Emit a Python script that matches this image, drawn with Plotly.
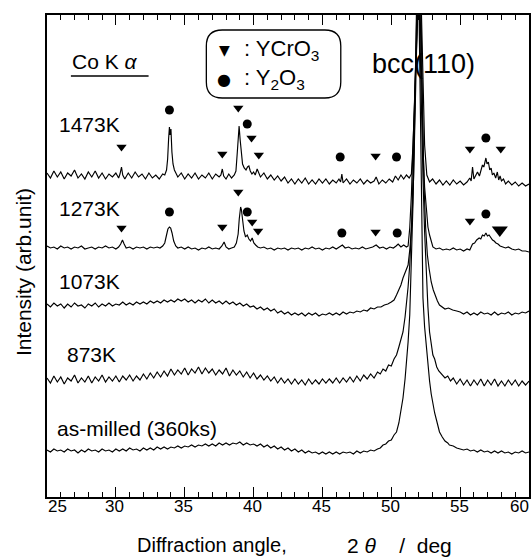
import plotly.graph_objects as go

# ---------------- data (2theta in deg, intensity in arb. units incl. stacking offset) ----------------
spec_1473k = [(25.0,324),(25.25,319),(25.5,326),(25.75,320),(26.0,325),(26.25,318),(26.5,324),(26.75,321),(27.0,327),(27.25,319),(27.5,323),(27.75,318),(28.0,325),(28.25,320),(28.5,326),(28.75,319),(29.0,324),(29.25,318),(29.5,323),(29.75,320),(30.0,324),(30.2,319),(30.3,323),(30.41,330),(30.5,322),(30.65,318),(30.9,324),(31.15,319),(31.4,325),(31.65,320),(31.9,323),(32.15,318),(32.4,324),(32.65,319),(32.9,322),(33.15,318),(33.4,323),(33.55,322),(33.68,327),(33.76,338),(33.83,358),(33.89,370),(33.94,362),(34.0,368),(34.07,345),(34.15,333),(34.25,327),(34.38,323),(34.5,320),(34.75,324),(35.0,318),(35.25,323),(35.5,319),(35.75,324),(36.0,318),(36.25,322),(36.5,319),(36.75,324),(37.0,318),(37.25,323),(37.5,320),(37.63,322),(37.73,328),(37.83,321),(38.0,318),(38.2,323),(38.4,319),(38.6,322),(38.72,326),(38.82,345),(38.89,365),(38.95,371),(39.02,358),(39.1,342),(39.2,333),(39.32,329),(39.45,327),(39.56,330),(39.66,331),(39.76,326),(39.88,323),(40.0,325),(40.12,322),(40.26,328),(40.38,323),(40.5,320),(40.75,324),(41.0,318),(41.25,322),(41.5,317),(41.75,321),(42.0,316),(42.25,320),(42.5,314),(42.75,318),(43.0,313),(43.25,318),(43.5,314),(43.75,319),(44.0,313),(44.25,317),(44.5,313),(44.75,318),(45.0,314),(45.25,318),(45.5,313),(45.75,317),(46.0,314),(46.2,318),(46.32,315),(46.41,323),(46.5,314),(46.75,318),(47.0,313),(47.25,317),(47.5,314),(47.75,318),(48.0,313),(48.25,317),(48.5,314),(48.75,316),(48.9,320),(49.1,313),(49.35,317),(49.6,314),(49.85,318),(50.1,315),(50.3,321),(50.5,317),(50.7,322),(50.9,318),(51.1,322),(51.3,319),(51.46,323),(51.58,352),(51.72,402),(51.88,470),(52.0,515),(52.08,545),(52.2,478),(52.3,405),(52.42,352),(52.58,322),(52.78,315),(53.0,318),(53.25,313),(53.5,317),(53.75,312),(54.0,316),(54.25,312),(54.5,317),(54.75,313),(55.0,316),(55.25,312),(55.5,315),(55.7,319),(55.8,316),(55.9,330),(56.0,318),(56.12,322),(56.26,325),(56.4,321),(56.52,328),(56.62,332),(56.72,330),(56.8,336),(56.87,339),(56.95,333),(57.05,335),(57.15,327),(57.25,329),(57.34,322),(57.45,324),(57.58,319),(57.7,325),(57.8,317),(57.9,321),(58.0,316),(58.15,318),(58.3,313),(58.5,316),(58.75,312),(59.0,315),(59.25,311),(59.5,314),(59.75,311),(60.0,313)]

spec_1273k = [(25.0,251),(25.25,249),(25.5,250),(25.75,248),(26.0,251),(26.25,249),(26.5,250),(26.75,248),(27.0,250),(27.25,249),(27.5,251),(27.75,248),(28.0,249),(28.25,250),(28.5,248),(28.75,250),(29.0,249),(29.25,251),(29.5,249),(29.75,250),(30.0,248),(30.2,250),(30.35,253),(30.48,257),(30.6,253),(30.75,249),(31.0,250),(31.25,248),(31.5,250),(31.75,249),(32.0,250),(32.25,248),(32.5,250),(32.75,249),(33.0,250),(33.2,249),(33.4,251),(33.55,254),(33.68,262),(33.78,268),(33.89,270),(33.98,269),(34.08,264),(34.2,256),(34.35,251),(34.5,249),(34.75,250),(35.0,248),(35.25,250),(35.5,248),(35.75,249),(36.0,247),(36.25,249),(36.5,248),(36.75,250),(37.0,248),(37.25,249),(37.5,248),(37.7,251),(37.86,255),(38.0,250),(38.2,248),(38.4,249),(38.6,250),(38.75,254),(38.88,263),(38.96,278),(39.02,287),(39.06,290),(39.12,287),(39.2,276),(39.3,266),(39.42,260),(39.54,262),(39.66,258),(39.78,256),(39.9,259),(40.02,254),(40.15,252),(40.3,250),(40.5,249),(40.75,250),(41.0,248),(41.25,249),(41.5,247),(41.75,249),(42.0,248),(42.25,249),(42.5,247),(42.75,249),(43.0,248),(43.25,249),(43.5,247),(43.75,249),(44.0,248),(44.25,250),(44.5,248),(44.75,249),(45.0,247),(45.25,249),(45.5,248),(45.75,250),(46.0,248),(46.25,250),(46.45,252),(46.65,249),(46.9,250),(47.15,248),(47.4,249),(47.65,248),(47.9,250),(48.15,248),(48.4,249),(48.65,250),(48.9,252),(49.15,249),(49.4,250),(49.65,248),(49.9,250),(50.15,249),(50.35,251),(50.5,253),(50.7,250),(50.9,252),(51.1,250),(51.22,251),(51.34,269),(51.46,302),(51.58,352),(51.72,420),(51.85,488),(51.95,530),(52.05,545),(52.15,490),(52.25,400),(52.33,340),(52.42,310),(52.54,285),(52.66,270),(52.78,262),(52.9,255),(53.02,250),(53.25,248),(53.5,249),(53.75,247),(54.0,248),(54.25,247),(54.5,249),(54.75,247),(55.0,248),(55.25,246),(55.5,248),(55.7,247),(55.9,253),(56.05,254),(56.2,257),(56.38,259),(56.5,258),(56.62,262),(56.75,261),(56.87,264),(56.98,261),(57.1,262),(57.23,259),(57.35,257),(57.47,256),(57.6,254),(57.75,253),(57.9,251),(58.1,250),(58.3,249),(58.5,250),(58.75,248),(59.0,247),(59.25,248),(59.5,246),(59.75,246),(60.0,245)]

spec_1073k = [(25.0,193),(25.25,190),(25.5,194),(25.75,191),(26.0,193),(26.25,189),(26.5,193),(26.75,190),(27.0,194),(27.25,191),(27.5,192),(27.75,189),(28.0,193),(28.25,191),(28.5,194),(28.75,190),(29.0,193),(29.25,191),(29.5,194),(29.75,191),(30.0,193),(30.25,192),(30.5,195),(30.75,192),(31.0,194),(31.25,192),(31.5,195),(31.75,193),(32.0,195),(32.25,193),(32.5,196),(32.75,194),(33.0,196),(33.25,194),(33.5,197),(33.75,195),(34.0,197),(34.25,195),(34.5,198),(34.75,196),(35.0,198),(35.25,195),(35.5,197),(35.75,194),(36.0,197),(36.25,195),(36.5,198),(36.75,194),(37.0,197),(37.25,194),(37.5,196),(37.75,193),(38.0,196),(38.25,193),(38.5,195),(38.75,192),(39.0,194),(39.25,191),(39.5,193),(39.75,190),(40.0,191),(40.25,188),(40.5,190),(40.75,187),(41.0,189),(41.25,186),(41.5,188),(41.75,184),(42.0,186),(42.25,183),(42.5,185),(42.75,182),(43.0,184),(43.25,182),(43.5,184),(43.75,181),(44.0,184),(44.25,182),(44.5,184),(44.75,181),(45.0,183),(45.25,182),(45.5,184),(45.75,182),(46.0,184),(46.25,182),(46.5,185),(46.75,183),(47.0,185),(47.25,184),(47.5,186),(47.75,185),(48.0,187),(48.25,186),(48.5,189),(48.75,188),(49.0,190),(49.25,190),(49.5,192),(49.75,193),(50.0,195),(50.2,197),(50.38,202),(50.55,207),(50.7,212),(50.85,219),(51.0,225),(51.12,229),(51.22,232),(51.35,248),(51.5,275),(51.62,320),(51.75,390),(51.88,470),(52.0,545),(52.12,470),(52.25,380),(52.38,310),(52.5,268),(52.62,242),(52.75,228),(52.9,215),(53.05,207),(53.2,201),(53.35,196),(53.5,192),(53.7,190),(53.9,188),(54.15,189),(54.46,187),(54.75,186),(55.0,185),(55.25,183),(55.5,185),(55.75,182),(56.0,184),(56.25,182),(56.5,185),(56.75,183),(57.0,184),(57.25,182),(57.5,185),(57.75,182),(58.0,184),(58.25,183),(58.5,185),(58.75,182),(59.0,184),(59.25,183),(59.5,185),(59.75,184),(60.0,186)]

spec_873k = [(25.0,119),(25.25,114),(25.5,121),(25.75,115),(26.0,120),(26.25,113),(26.5,119),(26.75,116),(27.0,122),(27.25,114),(27.5,119),(27.75,115),(28.0,121),(28.25,114),(28.5,120),(28.75,116),(29.0,122),(29.25,115),(29.5,120),(29.75,116),(30.0,121),(30.25,115),(30.5,121),(30.75,117),(31.0,122),(31.25,116),(31.5,121),(31.75,117),(32.0,123),(32.25,118),(32.5,124),(32.75,119),(33.0,125),(33.25,120),(33.5,126),(33.75,121),(34.0,128),(34.25,122),(34.5,127),(34.75,123),(35.0,129),(35.25,122),(35.5,128),(35.75,124),(36.0,130),(36.25,123),(36.5,129),(36.75,124),(37.0,128),(37.25,122),(37.5,127),(37.75,123),(38.0,129),(38.25,121),(38.5,127),(38.75,122),(39.0,126),(39.25,120),(39.5,125),(39.75,119),(40.0,124),(40.25,118),(40.5,122),(40.75,117),(41.0,121),(41.25,116),(41.5,120),(41.75,114),(42.0,119),(42.25,114),(42.5,118),(42.75,113),(43.0,118),(43.25,113),(43.5,117),(43.75,112),(44.0,118),(44.25,113),(44.5,117),(44.75,113),(45.0,118),(45.25,114),(45.5,118),(45.75,114),(46.0,119),(46.25,114),(46.5,119),(46.75,115),(47.0,120),(47.25,115),(47.5,121),(47.75,116),(48.0,122),(48.25,118),(48.5,123),(48.75,119),(49.0,125),(49.2,123),(49.4,128),(49.6,126),(49.8,132),(50.0,131),(50.2,138),(50.38,142),(50.55,150),(50.7,157),(50.85,165),(51.0,180),(51.1,192),(51.22,210),(51.34,232),(51.48,275),(51.6,330),(51.72,410),(51.85,500),(51.95,545),(52.05,480),(52.18,390),(52.3,320),(52.42,265),(52.55,220),(52.66,190),(52.78,165),(52.9,155),(53.02,142),(53.15,138),(53.3,130),(53.45,126),(53.6,124),(53.74,122),(53.9,119),(54.1,121),(54.3,116),(54.5,119),(54.75,113),(55.0,118),(55.25,112),(55.5,117),(55.75,111),(56.0,117),(56.25,112),(56.5,118),(56.75,111),(57.0,117),(57.25,112),(57.5,118),(57.75,111),(58.0,116),(58.25,111),(58.5,117),(58.75,112),(59.0,117),(59.25,111),(59.5,116),(59.75,112),(60.0,116)]

spec_as_milled = [(25.0,47),(25.25,45),(25.5,48),(25.75,46),(26.0,47),(26.25,45),(26.5,48),(26.75,46),(27.0,47),(27.25,44),(27.5,47),(27.75,45),(28.0,48),(28.25,46),(28.5,47),(28.75,45),(29.0,48),(29.25,46),(29.5,47),(29.75,45),(30.0,48),(30.25,46),(30.5,48),(30.75,46),(31.0,49),(31.25,47),(31.5,48),(31.75,46),(32.0,49),(32.25,47),(32.5,49),(32.75,47),(33.0,50),(33.25,48),(33.5,50),(33.75,48),(34.0,50),(34.25,49),(34.5,51),(34.75,49),(35.0,51),(35.25,50),(35.5,52),(35.75,50),(36.0,52),(36.25,51),(36.5,53),(36.75,51),(37.0,53),(37.25,51),(37.5,54),(37.75,52),(38.0,54),(38.25,52),(38.5,54),(38.75,53),(39.0,55),(39.25,52),(39.5,54),(39.75,52),(40.0,53),(40.25,51),(40.5,53),(40.75,50),(41.0,52),(41.25,49),(41.5,51),(41.75,48),(42.0,50),(42.25,47),(42.5,49),(42.75,46),(43.0,48),(43.25,45),(43.5,47),(43.75,44),(44.0,46),(44.25,44),(44.5,45),(44.75,43),(45.0,45),(45.25,43),(45.5,45),(45.75,43),(46.0,45),(46.25,43),(46.5,45),(46.75,44),(47.0,45),(47.25,43),(47.5,46),(47.75,44),(48.0,46),(48.25,45),(48.5,47),(48.75,46),(49.0,48),(49.2,49),(49.4,52),(49.6,53),(49.8,56),(50.0,57),(50.2,62),(50.38,65),(50.55,74),(50.7,85),(50.85,99),(51.0,118),(51.1,132),(51.22,155),(51.34,182),(51.46,232),(51.58,295),(51.7,380),(51.8,460),(51.9,545),(52.0,500),(52.1,400),(52.2,290),(52.3,199),(52.42,170),(52.54,150),(52.66,132),(52.78,116),(52.9,103),(53.02,92),(53.15,84),(53.3,76),(53.5,65),(53.7,60),(53.9,56),(54.1,54),(54.22,52),(54.5,51),(54.75,49),(55.0,48),(55.25,47),(55.5,48),(55.75,46),(56.0,47),(56.25,45),(56.5,47),(56.75,45),(57.0,46),(57.25,44),(57.5,46),(57.75,44),(58.0,46),(58.25,44),(58.5,45),(58.75,43),(59.0,45),(59.25,44),(59.5,46),(59.75,44),(60.0,45)]

# phase identification marks (2theta, height)
ycro3_1473k = [(30.41,350),(37.73,343),(38.89,389),(39.85,359),(40.38,342),(48.86,341),(55.71,348),(57.95,348)]
y2o3_1473k = [(33.89,387),(39.54,373),(46.29,340),(50.38,340),(56.87,359)]
ycro3_1273k = [(30.41,269),(37.73,270),(38.89,305),(39.9,275),(40.33,266),(48.86,265),(55.71,276)]
ycro3_1273k_strong = [(57.88,267)]
y2o3_1273k = [(33.89,285),(39.54,285),(46.41,264),(50.43,264),(56.87,283)]

sample_labels = ["1473K", "1273K", "1073K", "873K", "as-milled (360ks)"]
tick_values = [25, 30, 35, 40, 45, 50, 55, 60]
tick_labels = ["25", "30", "35", "40", "45", "50", "55", "60"]

# ---------------- layout geometry (pixels) ----------------
W, H = 532, 558
ML, MR, MT, MB = 47, 1, 15, 61
PW = W - ML - MR
PH = H - MT - MB
XR = [25, 60]
YR = [0, PH]

def xp(px):
    return (px - ML) / PW

def yp(py):
    return (H - MB - py) / PH

def dx(px):
    return XR[0] + (px - ML) * (XR[1] - XR[0]) / PW

def dy(py):
    return H - MB - py

FONT = "Liberation Sans, Arial, Helvetica, sans-serif"

fig = go.Figure()
for spec in [spec_1473k, spec_1273k, spec_1073k, spec_873k, spec_as_milled]:
    fig.add_trace(go.Scatter(x=[p[0] for p in spec], y=[p[1] for p in spec], mode="lines",
                             line=dict(color="black", width=1.15), showlegend=False, hoverinfo="skip"))

def add_marks(pts, symbol, size):
    fig.add_trace(go.Scatter(x=[p[0] for p in pts], y=[p[1] for p in pts], mode="markers",
                             marker=dict(symbol=symbol, size=size, color="black", line=dict(width=0)),
                             showlegend=False, hoverinfo="skip"))

add_marks(ycro3_1473k, "triangle-down", 9)
add_marks(ycro3_1273k, "triangle-down", 9)
add_marks(ycro3_1273k_strong, "triangle-down", 14)
add_marks(y2o3_1473k, "circle", 9)
add_marks(y2o3_1273k, "circle", 9)

ann = []
# tick labels
for v, t in zip(tick_values, tick_labels):
    shift = 10 if v == XR[0] else (-10 if v == XR[1] else -1)
    ann.append(dict(x=v, xref="x", y=yp(507), yref="paper", text=t, showarrow=False,
                    xanchor="center", yanchor="middle", xshift=shift,
                    font=dict(family=FONT, size=17, color="black")))
# axis titles
ann.append(dict(x=xp(135), y=yp(545), xref="paper", yref="paper", text="Diffraction angle,",
                showarrow=False, xanchor="left", yanchor="middle",
                font=dict(family=FONT, size=20, color="black")))
ann.append(dict(x=xp(346), y=yp(545), xref="paper", yref="paper",
                text="2 <i>θ</i>\u00a0\u00a0\u00a0\u00a0/\u00a0\u00a0deg",
                showarrow=False, xanchor="left", yanchor="middle",
                font=dict(family=FONT, size=21, color="black")))
ann.append(dict(x=xp(23), y=yp(272), xref="paper", yref="paper", text="Intensity (arb.unit)",
                showarrow=False, textangle=-90, xanchor="center", yanchor="middle",
                font=dict(family=FONT, size=21, color="black")))
# sample labels
label_pos = [(57, 125), (57, 208), (57, 281), (65, 355), (55, 428)]
for t, (px, py) in zip(sample_labels, label_pos):
    ann.append(dict(x=xp(px), y=yp(py), xref="paper", yref="paper", text=t, showarrow=False,
                    xanchor="left", yanchor="middle", font=dict(family=FONT, size=21, color="black")))
# radiation
ann.append(dict(x=xp(70), y=yp(62), xref="paper", yref="paper", text="Co K <i>α</i>", showarrow=False,
                xanchor="left", yanchor="middle", font=dict(family=FONT, size=21, color="black")))
# bcc(110)
ann.append(dict(x=xp(371), y=yp(64), xref="paper", yref="paper", text="bcc(110)", showarrow=False,
                xanchor="left", yanchor="middle", font=dict(family=FONT, size=27, color="black")))
# legend key
ann.append(dict(x=xp(225), y=yp(50), xref="paper", yref="paper", text="▼", showarrow=False,
                xanchor="center", yanchor="middle", font=dict(family="DejaVu Sans", size=14, color="black")))
ann.append(dict(x=xp(225), y=yp(80), xref="paper", yref="paper", text="●", showarrow=False,
                xanchor="center", yanchor="middle", font=dict(family="DejaVu Sans", size=16, color="black")))
ann.append(dict(x=xp(243), y=yp(50), xref="paper", yref="paper", text=": YCrO<sub>3</sub>", showarrow=False,
                xanchor="left", yanchor="middle", font=dict(family=FONT, size=22, color="black")))
ann.append(dict(x=xp(243), y=yp(79), xref="paper", yref="paper", text=": Y<sub>2</sub>O<sub>3</sub>", showarrow=False,
                xanchor="left", yanchor="middle", font=dict(family=FONT, size=22, color="black")))

# rounded legend box (pixel geometry -> axis coords)
bx0, bx1, by0, by1, r = 207, 342, 30, 98, 16
x0, x1 = dx(bx0), dx(bx1)
yb, yt = dy(by1), dy(by0)
rx = dx(bx0 + r) - x0
ry = r
path = (f"M {x0+rx},{yb} L {x1-rx},{yb} Q {x1},{yb} {x1},{yb+ry} L {x1},{yt-ry} "
        f"Q {x1},{yt} {x1-rx},{yt} L {x0+rx},{yt} Q {x0},{yt} {x0},{yt-ry} "
        f"L {x0},{yb+ry} Q {x0},{yb} {x0+rx},{yb} Z")
shapes = [dict(type="path", path=path, xref="x", yref="y", line=dict(color="black", width=1.3)),
          dict(type="line", xref="paper", yref="paper", x0=xp(71), x1=xp(149), y0=yp(76), y1=yp(76),
               line=dict(color="black", width=1.6))]

fig.update_layout(
    width=W, height=H, margin=dict(l=ML, r=MR, t=MT, b=MB),
    paper_bgcolor="white", plot_bgcolor="white",
    annotations=ann, shapes=shapes,
    xaxis=dict(range=XR, tickvals=tick_values, showticklabels=False, ticks="inside", ticklen=10,
               tickwidth=1.3, tickcolor="black", showline=True, linecolor="black", linewidth=1.6,
               mirror="allticks", showgrid=False, zeroline=False,
               minor=dict(dtick=1, tick0=25, ticks="inside", ticklen=5, tickwidth=1.1,
                          tickcolor="black", showgrid=False)),
    yaxis=dict(range=YR, showticklabels=False, ticks="", showline=True, linecolor="black",
               linewidth=1.6, mirror=True, showgrid=False, zeroline=False),
)

fig.write_html("out.html", config={"displayModeBar": False},
               post_script="document.body.style.margin='0px';")
